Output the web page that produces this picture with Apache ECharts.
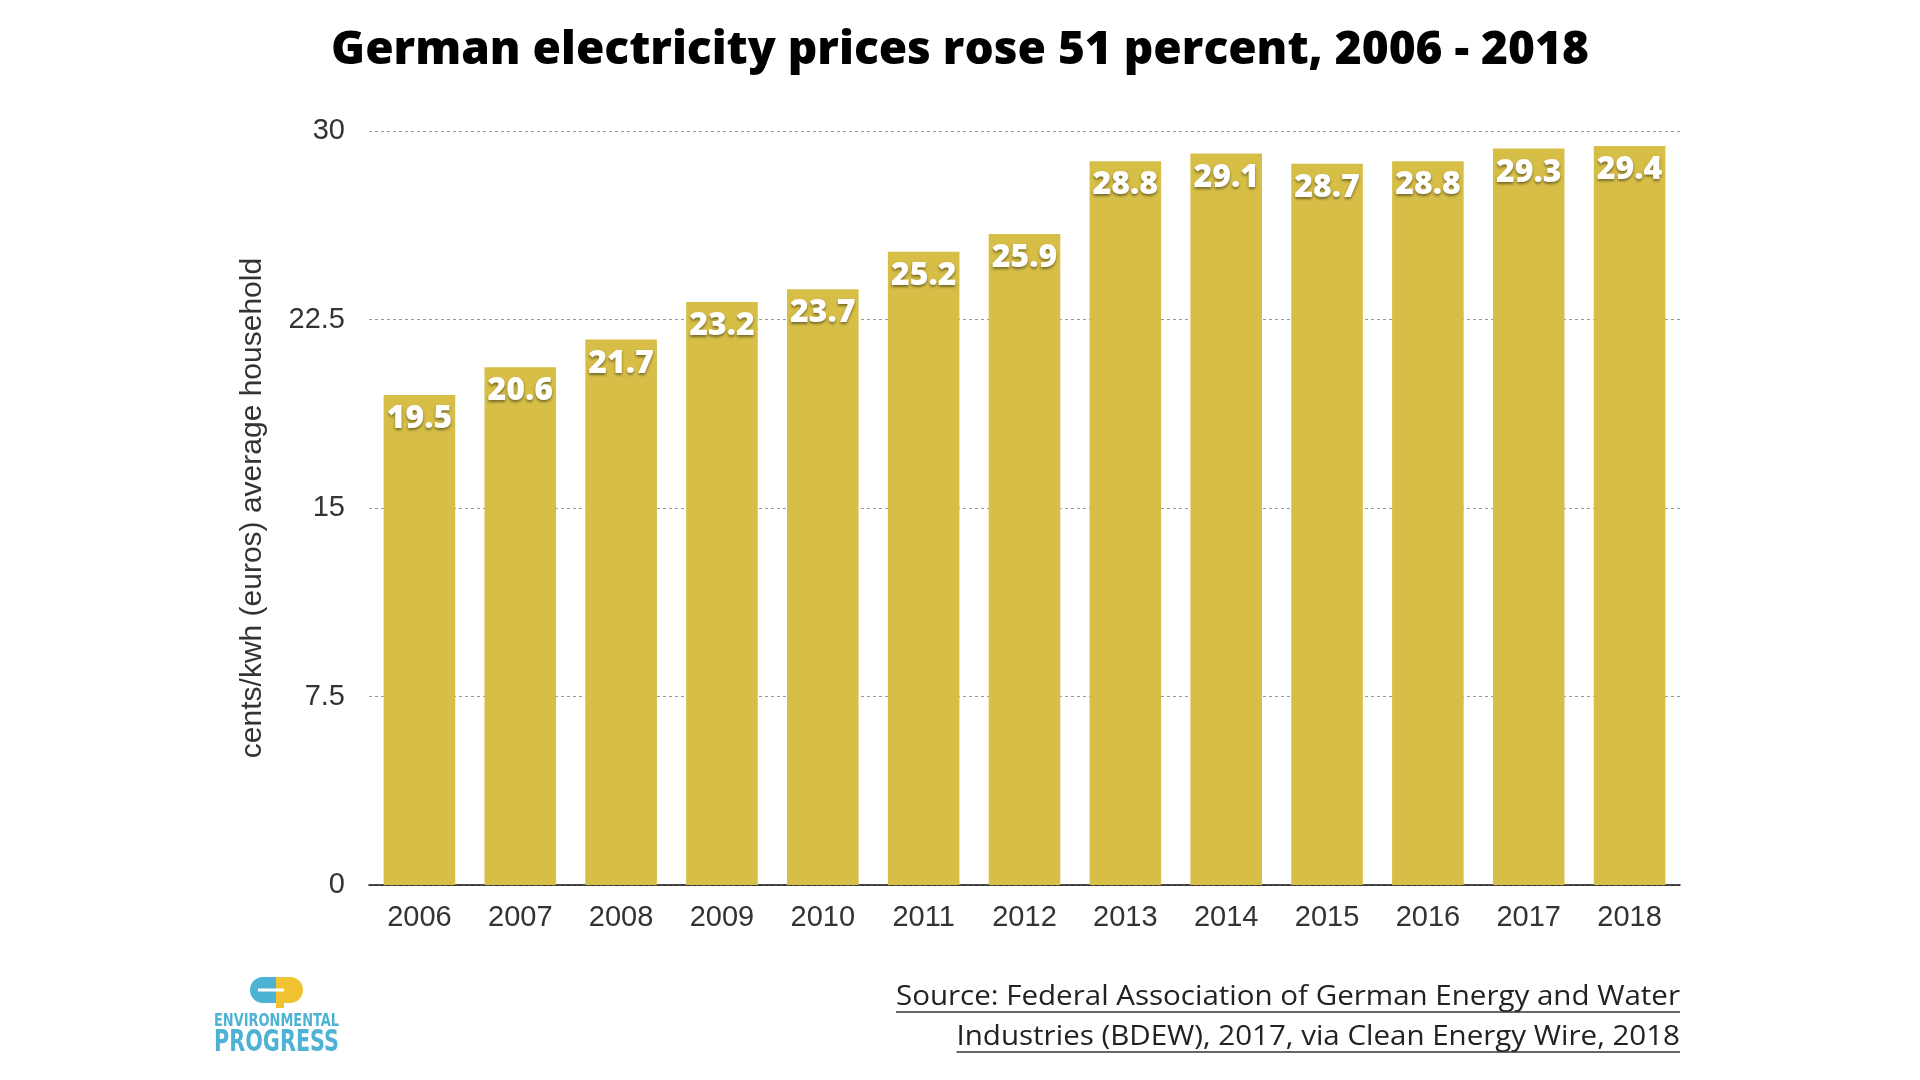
<!DOCTYPE html>
<html>
<head>
<meta charset="utf-8">
<script src="https://cdn.jsdelivr.net/npm/echarts@6/dist/echarts.min.js"></script>
<style>
html,body{margin:0;padding:0;background:#fff;}
#chart{width:1920px;height:1080px;}
</style>
</head>
<body>
<div id="chart"></div>
<script>
const years = ['2006','2007','2008','2009','2010','2011','2012','2013','2014','2015','2016','2017','2018'];
const prices = [19.5, 20.6, 21.7, 23.2, 23.7, 25.2, 25.9, 28.8, 29.1, 28.7, 28.8, 29.3, 29.4];
const yTicks = [0, 7.5, 15, 22.5, 30];
const titleText = 'German electricity prices rose 51 percent, 2006 - 2018';
const yAxisName = 'cents/kwh (euros) average household';
const sourceLines = ['Source: Federal Association of German Energy and Water', 'Industries (BDEW), 2017, via Clean Energy Wire, 2018'];

const chart = echarts.init(document.getElementById('chart'));
const mc = document.createElement('canvas').getContext('2d');
function textW(t, font) { mc.font = font; return mc.measureText(t).width; }

const srcFont = '28px "Open Sans"';
const srcRight = 1680;
const srcY = [997, 1037];
const srcTargetW = 784;
const srcScale = srcTargetW / textW(sourceLines[0], srcFont);
const srcGraphics = [];
sourceLines.forEach((t, i) => {
  const w = textW(t, srcFont) * srcScale;
  srcGraphics.push({type:'text', x: srcRight, y: srcY[i], scaleX: srcScale,
    style:{text:t, font: srcFont, fill:'#222', textAlign:'right', textVerticalAlign:'middle'}});
  srcGraphics.push({type:'line', shape:{x1: srcRight - w, y1: srcY[i] + 15, x2: srcRight, y2: srcY[i] + 15},
    style:{stroke:'#333', lineWidth:1.5}});
});

const logoFont1 = 'bold 17px "DejaVu Sans Condensed"';
const logoFont2 = 'bold 30px "DejaVu Sans Condensed"';
const logoS1 = 125 / textW('ENVIRONMENTAL', logoFont1);
const logoS2 = 125 / textW('PROGRESS', logoFont2);

chart.setOption({
  animation: false,
  backgroundColor: '#fff',
  title: {
    text: titleText, left: 'center', top: 23,
    textStyle: {fontFamily: 'Open Sans', fontWeight: 800, fontSize: 46, color: '#000'}
  },
  grid: {left: 369, right: 240, top: 131, bottom: 195},
  xAxis: {
    type: 'category', data: years,
    axisLine: {lineStyle: {color: '#111', width: 1.5}},
    axisTick: {show: false},
    axisLabel: {fontFamily: 'Liberation Sans', fontSize: 29, color: '#333', margin: 18}
  },
  yAxis: {
    type: 'value', min: 0, max: 30, interval: 7.5,
    name: yAxisName, nameLocation: 'middle', nameGap: 101,
    nameTextStyle: {fontFamily: 'Liberation Sans', fontSize: 30, color: '#333'},
    axisLine: {show: false}, axisTick: {show: false},
    axisLabel: {fontFamily: 'Liberation Sans', fontSize: 29, color: '#333', margin: 24,
      formatter: v => yTicks.includes(v) ? String(v) : ''},
    splitLine: {lineStyle: {color: '#999', type: [3, 3], width: 1}}
  },
  series: [{
    type: 'bar', data: prices, barCategoryGap: '29%',
    itemStyle: {color: '#D7BF47'},
    label: {show: true, position: 'insideTop', distance: 8,
      fontFamily: 'Open Sans', fontWeight: 800, fontSize: 32, color: '#fff',
      textShadowColor: 'rgba(0,0,0,0.45)', textShadowBlur: 3, textShadowOffsetY: 2,
      formatter: p => p.value.toFixed(1)}
  }],
  graphic: srcGraphics.concat([
    {type:'rect', shape:{x:250, y:977, width:30, height:26, r:[13,0,0,13]}, style:{fill:'#4DB2D3'}},
    {type:'rect', shape:{x:276, y:977, width:27, height:26, r:[0,13,13,0]}, style:{fill:'#F1C232'}},
    {type:'rect', shape:{x:276, y:990, width:8, height:18}, style:{fill:'#F1C232'}},
    {type:'line', shape:{x1:258, y1:990, x2:284, y2:990}, style:{stroke:'#fff', lineWidth:3}},
    {type:'text', x:214, y:1022, scaleX: logoS1,
      style:{text:'ENVIRONMENTAL', font: logoFont1, fill:'#4DB2D3', textVerticalAlign:'middle'}},
    {type:'text', x:214, y:1043, scaleX: logoS2,
      style:{text:'PROGRESS', font: logoFont2, fill:'#4DB2D3', textVerticalAlign:'middle'}}
  ])
});
</script>
</body>
</html>
